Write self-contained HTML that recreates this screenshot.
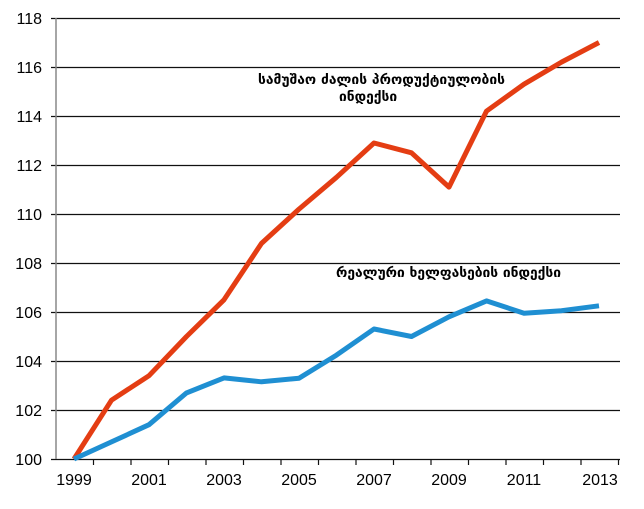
<!DOCTYPE html>
<html><head><meta charset="utf-8"><style>
html,body{margin:0;padding:0;background:#fff;}
svg text{font-family:"Liberation Sans",sans-serif;fill:#000;}
.g{font-family:"DejaVu Sans",sans-serif;font-size:13.8px;font-weight:bold;}
</style></head><body>
<svg width="644" height="504" viewBox="0 0 644 504" xmlns="http://www.w3.org/2000/svg">
<g stroke="#111" stroke-width="1.2">
<line x1="51" y1="18.5" x2="620" y2="18.5"/>
<line x1="51" y1="67.5" x2="620" y2="67.5"/>
<line x1="51" y1="116.5" x2="620" y2="116.5"/>
<line x1="51" y1="165.5" x2="620" y2="165.5"/>
<line x1="51" y1="214.5" x2="620" y2="214.5"/>
<line x1="51" y1="263.5" x2="620" y2="263.5"/>
<line x1="51" y1="312.5" x2="620" y2="312.5"/>
<line x1="51" y1="361.5" x2="620" y2="361.5"/>
<line x1="51" y1="410.5" x2="620" y2="410.5"/>
<line x1="51" y1="459.5" x2="620" y2="459.5"/>
</g>
<line x1="56" y1="18" x2="56" y2="459" stroke="#888" stroke-width="1.5"/>
<g stroke="#111" stroke-width="1.2">
<line x1="93.5" y1="459" x2="93.5" y2="465"/><line x1="131" y1="459" x2="131" y2="465"/>
<line x1="168.5" y1="459" x2="168.5" y2="465"/><line x1="206" y1="459" x2="206" y2="465"/>
<line x1="243.5" y1="459" x2="243.5" y2="465"/><line x1="281" y1="459" x2="281" y2="465"/>
<line x1="318.5" y1="459" x2="318.5" y2="465"/><line x1="356" y1="459" x2="356" y2="465"/>
<line x1="393.5" y1="459" x2="393.5" y2="465"/><line x1="431" y1="459" x2="431" y2="465"/>
<line x1="468.5" y1="459" x2="468.5" y2="465"/><line x1="506" y1="459" x2="506" y2="465"/>
<line x1="543.5" y1="459" x2="543.5" y2="465"/><line x1="581" y1="459" x2="581" y2="465"/>
<line x1="618.5" y1="459" x2="618.5" y2="465"/>
</g>
<g font-size="16" text-anchor="end">
<text x="42" y="24">118</text><text x="42" y="73">116</text><text x="42" y="122">114</text>
<text x="42" y="171">112</text><text x="42" y="220">110</text><text x="42" y="269">108</text>
<text x="42" y="318">106</text><text x="42" y="367">104</text><text x="42" y="416">102</text>
<text x="42" y="465">100</text>
</g>
<g font-size="16" text-anchor="middle">
<text x="74" y="485">1999</text><text x="149" y="485">2001</text><text x="224" y="485">2003</text>
<text x="299" y="485">2005</text><text x="374" y="485">2007</text><text x="449" y="485">2009</text>
<text x="524" y="485">2011</text><text x="600" y="485">2013</text>
</g>
<polyline fill="none" stroke="#e43d13" stroke-width="5" stroke-linejoin="round"
points="74,459 111.5,400.2 149,375.7 186.5,336.5 224,299.8 261.5,243.4 299,209.1 336.5,177.3 374,143 411.5,152.8 449,187.1 486.5,111.1 524,84.2 561.5,62.1 599,42.5"/>
<polyline fill="none" stroke="#1f8fd2" stroke-width="5" stroke-linejoin="round"
points="74,459 111.5,441.9 149,424.7 186.5,392.9 224,377.9 261.5,381.8 299,378.2 336.5,355.1 374,329 411.5,336.5 449,316.8 486.5,300.9 524,313.2 561.5,310.7 599,305.8"/>
<text class="g" x="258" y="84" textLength="247">სამუშაო ძალის პროდუქტიულობის</text>
<text class="g" x="339" y="101">ინდექსი</text>
<text class="g" x="336" y="277" textLength="225">რეალური ხელფასების ინდექსი</text>
</svg>
</body></html>
